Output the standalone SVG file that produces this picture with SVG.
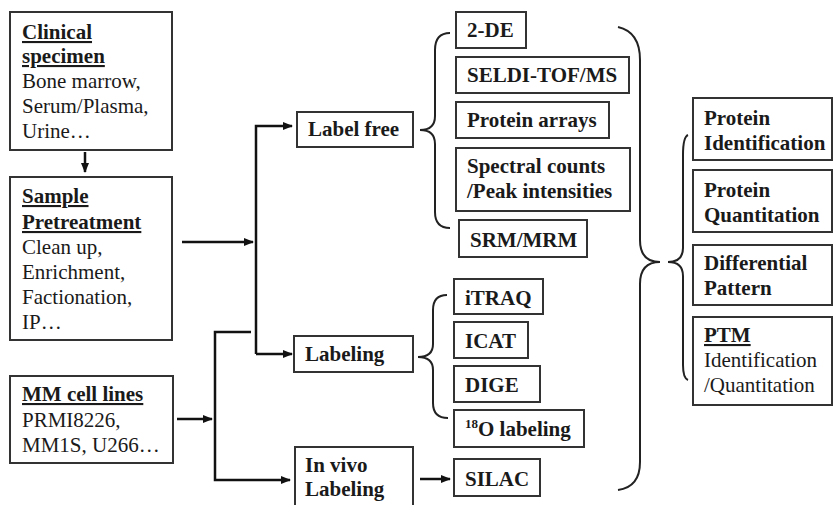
<svg xmlns="http://www.w3.org/2000/svg" width="834" height="505" viewBox="0 0 834 505">
  <defs>
    <marker id="arrow" viewBox="0 0 10 10" refX="9" refY="5" markerWidth="4" markerHeight="4" orient="auto" markerUnits="strokeWidth">
      <path d="M0,1 L10,5 L0,9 z" fill="#111"/>
    </marker>
    <style>
      .box { fill: #fff; stroke: #333; stroke-width: 2; }
      .t { font-family: 'Liberation Serif', 'Tinos', 'DejaVu Serif', 'Times New Roman', serif; font-size: 21px; fill: #1a1a1a; }
      .b { font-weight: bold; }
      .u { text-decoration: underline; }
      .conn { fill: none; stroke: #111; stroke-width: 2.5; }
      .brace { fill: none; stroke: #222; stroke-width: 2; }
    </style>
  </defs>
  <rect width="834" height="505" fill="#fff"/>

  <!-- sources -->
  <g id="clinical">
    <rect class="box" x="10" y="12" width="162" height="138"/>
    <text class="t b u" x="22" y="39">Clinical</text>
    <text class="t b u" x="22" y="63">specimen</text>
    <text class="t" x="22" y="88">Bone marrow,</text>
    <text class="t" x="22" y="113">Serum/Plasma,</text>
    <text class="t" x="22" y="138">Urine…</text>
  </g>
  <g id="pretreatment">
    <rect class="box" x="10" y="177" width="162" height="163"/>
    <text class="t b u" x="22" y="203">Sample</text>
    <text class="t b u" x="22" y="229">Pretreatment</text>
    <text class="t" x="22" y="254">Clean up,</text>
    <text class="t" x="22" y="279">Enrichment,</text>
    <text class="t" x="22" y="304">Factionation,</text>
    <text class="t" x="22" y="329">IP…</text>
  </g>
  <g id="cell-lines">
    <rect class="box" x="10" y="376" width="163" height="87"/>
    <text class="t b u" x="22" y="401">MM cell lines</text>
    <text class="t" x="22" y="427">PRMI8226,</text>
    <text class="t" x="22" y="452">MM1S, U266…</text>
  </g>

  <!-- strategies -->
  <g id="label-free">
    <rect class="box" x="297" y="112" width="116" height="35"/>
    <text class="t b" x="308" y="136">Label free</text>
  </g>
  <g id="labeling">
    <rect class="box" x="294" y="336" width="119" height="36"/>
    <text class="t b" x="305" y="361">Labeling</text>
  </g>
  <g id="in-vivo">
    <rect class="box" x="295" y="447" width="118" height="70"/>
    <text class="t b" x="305" y="472">In vivo</text>
    <text class="t b" x="305" y="496">Labeling</text>
  </g>

  <!-- label-free methods -->
  <g id="m-2de">
    <rect class="box" x="456" y="12" width="70" height="36"/>
    <text class="t b" x="467" y="37">2-DE</text>
  </g>
  <g id="m-seldi">
    <rect class="box" x="456" y="57" width="173" height="36"/>
    <text class="t b" x="467" y="82">SELDI-TOF/MS</text>
  </g>
  <g id="m-arrays">
    <rect class="box" x="456" y="102" width="153" height="36"/>
    <text class="t b" x="467" y="127">Protein arrays</text>
  </g>
  <g id="m-spectral">
    <rect class="box" x="456" y="148" width="174" height="63"/>
    <text class="t b" x="467" y="173">Spectral counts</text>
    <text class="t b" x="467" y="198">/Peak intensities</text>
  </g>
  <g id="m-srm">
    <rect class="box" x="459" y="220" width="128" height="37"/>
    <text class="t b" x="470" y="247">SRM/MRM</text>
  </g>

  <!-- labeling methods -->
  <g id="m-itraq">
    <rect class="box" x="454" y="279" width="89" height="35"/>
    <text class="t b" x="465" y="305">iTRAQ</text>
  </g>
  <g id="m-icat">
    <rect class="box" x="454" y="322" width="74" height="36"/>
    <text class="t b" x="465" y="348">ICAT</text>
  </g>
  <g id="m-dige">
    <rect class="box" x="454" y="366" width="86" height="36"/>
    <text class="t b" x="465" y="392">DIGE</text>
  </g>
  <g id="m-18o">
    <rect class="box" x="454" y="410" width="130" height="37"/>
    <text class="t b" x="465" y="436"><tspan font-size="13" dy="-8">18</tspan><tspan dy="8">O labeling</tspan></text>
  </g>
  <g id="m-silac">
    <rect class="box" x="454" y="459" width="86" height="37"/>
    <text class="t b" x="465" y="486">SILAC</text>
  </g>

  <!-- outcomes -->
  <g id="o-identification">
    <rect class="box" x="693" y="98" width="139" height="62"/>
    <text class="t b" x="704" y="125">Protein</text>
    <text class="t b" x="704" y="150">Identification</text>
  </g>
  <g id="o-quantitation">
    <rect class="box" x="693" y="170" width="139" height="62"/>
    <text class="t b" x="704" y="197">Protein</text>
    <text class="t b" x="704" y="222">Quantitation</text>
  </g>
  <g id="o-pattern">
    <rect class="box" x="693" y="245" width="139" height="60"/>
    <text class="t b" x="704" y="270">Differential</text>
    <text class="t b" x="704" y="295">Pattern</text>
  </g>
  <g id="o-ptm">
    <rect class="box" x="693" y="317" width="139" height="88"/>
    <text class="t b u" x="704" y="342">PTM</text>
    <text class="t" x="704" y="367">Identification</text>
    <text class="t" x="704" y="392">/Quantitation</text>
  </g>

  <!-- connectors -->
  <g id="connectors">
    <line class="conn" x1="85" y1="152" x2="85" y2="172" marker-end="url(#arrow)"/>
    <line class="conn" x1="182" y1="242" x2="253" y2="242" marker-end="url(#arrow)"/>
    <polyline class="conn" points="256,354 256,126 292,126" marker-end="url(#arrow)"/>
    <polyline class="conn" points="256,354 292,354" marker-end="url(#arrow)"/>
    <line class="conn" x1="177" y1="419" x2="212" y2="419" marker-end="url(#arrow)"/>
    <polyline class="conn" points="251,332 215,332 215,480 290,480" marker-end="url(#arrow)"/>
    <line class="conn" x1="420" y1="479" x2="450" y2="479" marker-end="url(#arrow)"/>

    <!-- braces -->
    <path class="brace" d="M450,33 Q435,33 435,50 L435,116 Q435,130 420,130 Q435,130 435,144 L435,212 Q435,228 450,228"/>
    <path class="brace" d="M447,295 Q433,295 433,310 L433,344 Q433,357 418,357 Q433,357 433,370 L433,403 Q433,418 448,418"/>
    <path class="brace" d="M618,27 Q640,32 640,60 L640,240 Q640,262 660,262 Q640,262 640,284 L640,462 Q640,487 618,490"/>
    <path class="brace" d="M688,135 Q683,137 683,155 L683,248 Q683,262 668,262 Q683,262 683,276 L683,365 Q683,378 688,380"/>
  </g>
</svg>
